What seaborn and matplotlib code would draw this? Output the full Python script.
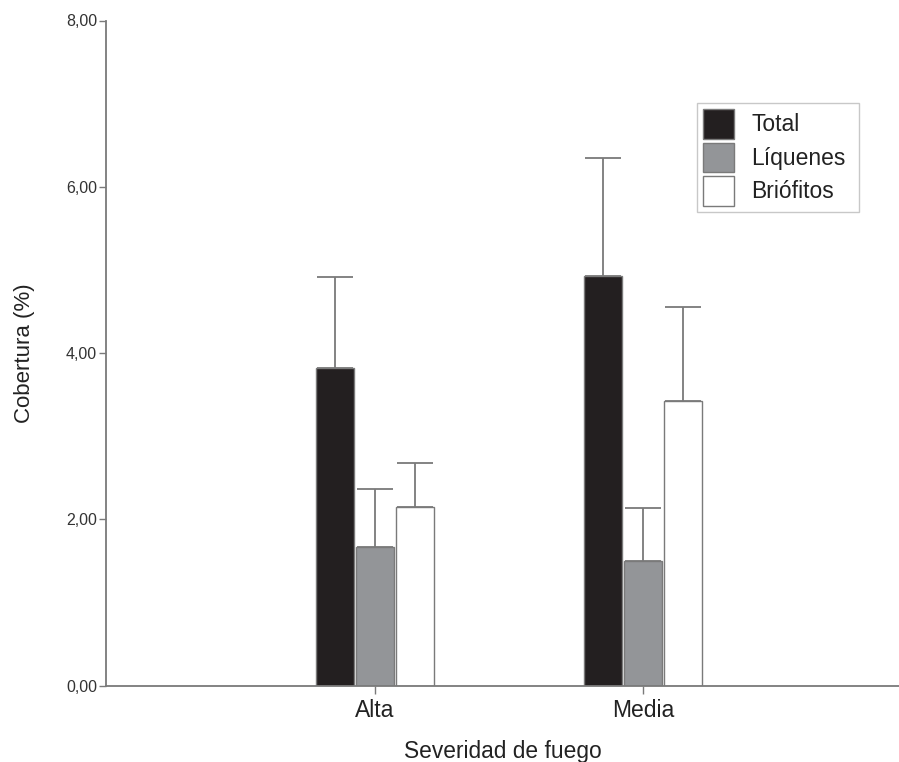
import matplotlib
matplotlib.use("Agg")
import matplotlib.pyplot as plt
import seaborn as sns
import pandas as pd
import numpy as np
from matplotlib.patches import Patch

categories = ["Alta", "Media"]
groups = ["Total", "Líquenes", "Briófitos"]
total_mean = [3.82, 4.93]
total_err = [1.10, 1.41]
liquenes_mean = [1.67, 1.50]
liquenes_err = [0.69, 0.64]
briofitos_mean = [2.15, 3.42]
briofitos_err = [0.53, 1.13]
yticks = [0, 2, 4, 6, 8]
ytick_labels = ["0,00", "2,00", "4,00", "6,00", "8,00"]

means = {"Total": total_mean, "Líquenes": liquenes_mean, "Briófitos": briofitos_mean}
errs = {"Total": total_err, "Líquenes": liquenes_err, "Briófitos": briofitos_err}

rows = []
for g in groups:
    for c, v in zip(categories, means[g]):
        rows.append({"Severidad": c, "Grupo": g, "Cobertura": v})
df = pd.DataFrame(rows)

sns.set_theme(style="white")
plt.rcParams["font.family"] = ["Liberation Sans", "DejaVu Sans"]

palette = {"Total": "#231f20", "Líquenes": "#939598", "Briófitos": "#ffffff"}
gray = "#7a7a7a"

fig = plt.figure(figsize=(8.99, 7.62), dpi=100)
ax = fig.add_axes([106/899, 1-685.5/762, 1-106/899, (685.5-20.5)/762])

sns.barplot(data=df, x="Severidad", y="Cobertura", hue="Grupo",
            order=categories, hue_order=groups, palette=palette,
            width=0.448, gap=0.06, errorbar=None, edgecolor=gray,
            linewidth=1.0, ax=ax, legend=False, saturation=1)

for cont, g in zip(ax.containers, groups):
    xs = [p.get_x() + p.get_width() / 2 for p in cont.patches]
    ys = [p.get_height() for p in cont.patches]
    e = errs[g]
    ax.errorbar(xs, ys, yerr=[np.zeros(len(e)), e], fmt="none",
                ecolor=gray, elinewidth=1.3, capsize=13.3, capthick=1.3, zorder=1)

ax.set_xlim(-1.0026, 1.956)
ax.set_ylim(0, 8)
ax.set_yticks(yticks)
ax.set_yticklabels(ytick_labels)

for s in ["top", "right"]:
    ax.spines[s].set_visible(False)
for s in ["left", "bottom"]:
    ax.spines[s].set_color(gray)
    ax.spines[s].set_linewidth(1.3)

ax.tick_params(axis="y", which="both", left=True, length=5, width=1, color=gray,
               labelsize=11.5, labelcolor="#333333", pad=1.5)
ax.tick_params(axis="x", which="both", bottom=True, length=6, width=1, color=gray,
               labelsize=16.5, labelcolor="#222222", pad=4)

ax.set_xlabel("Severidad de fuego", fontsize=16.4, color="#222222", labelpad=13)
ax.set_ylabel("Cobertura (%)", fontsize=16, color="#222222", labelpad=22)

handles = [Patch(facecolor=palette[g], edgecolor=gray, linewidth=1.0) for g in groups]
lx0 = 697/899
ly1 = 1 - 102.7/762
lw = (859 - 697)/899
lh = (213 - 102.7)/762
leg = fig.legend(handles, groups, loc="upper left",
                 bbox_to_anchor=(lx0, ly1 - lh, lw, lh), mode="expand",
                 fontsize=16.5, frameon=True, fancybox=False, edgecolor="#bbbbbb",
                 handlelength=1.35, handleheight=1.6, handletextpad=0.74,
                 labelspacing=0.18, borderpad=0.28, borderaxespad=0)
leg.get_frame().set_linewidth(1.0)
for t in leg.get_texts():
    t.set_color("#222222")

fig.savefig("out.png", dpi=100, facecolor="white")
